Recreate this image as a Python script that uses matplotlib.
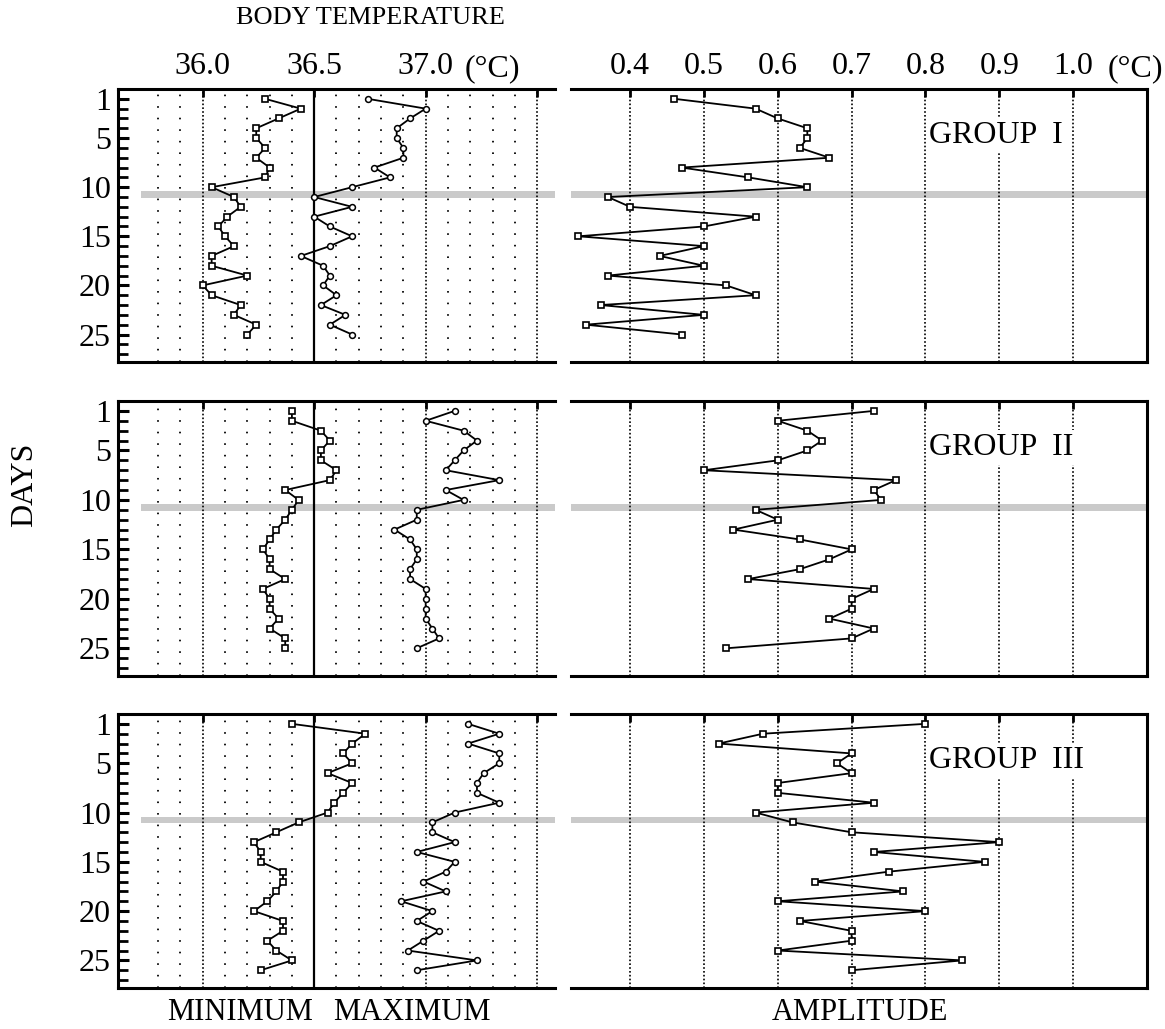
import matplotlib
matplotlib.use("Agg")
import matplotlib.pyplot as plt
from matplotlib.ticker import FixedLocator

plt.rcParams['font.family'] = ['Liberation Serif', 'DejaVu Serif']

# Days per group (group III has one extra day)
days_g1 = list(range(1, 26))
days_g2 = list(range(1, 26))
days_g3 = list(range(1, 27))

# Minimum body temperature (deg C)
g1_min = [36.28, 36.44, 36.34, 36.24, 36.24, 36.28, 36.24, 36.30, 36.28, 36.04,
          36.14, 36.17, 36.11, 36.07, 36.10, 36.14, 36.04, 36.04, 36.20, 36.00,
          36.04, 36.17, 36.14, 36.24, 36.20]
g2_min = [36.40, 36.40, 36.53, 36.57, 36.53, 36.53, 36.60, 36.57, 36.37, 36.43,
          36.40, 36.37, 36.33, 36.30, 36.27, 36.30, 36.30, 36.37, 36.27, 36.30,
          36.30, 36.34, 36.30, 36.37, 36.37]
g3_min = [36.40, 36.73, 36.67, 36.63, 36.67, 36.56, 36.67, 36.63, 36.59, 36.56,
          36.43, 36.33, 36.23, 36.26, 36.26, 36.36, 36.36, 36.33, 36.29, 36.23,
          36.36, 36.36, 36.29, 36.33, 36.40, 36.26]

# Maximum body temperature (deg C)
g1_max = [36.74, 37.00, 36.93, 36.87, 36.87, 36.90, 36.90, 36.77, 36.84, 36.67,
          36.50, 36.67, 36.50, 36.57, 36.67, 36.57, 36.44, 36.54, 36.57, 36.54,
          36.60, 36.53, 36.64, 36.57, 36.67]
g2_max = [37.13, 37.00, 37.17, 37.23, 37.17, 37.13, 37.09, 37.33, 37.09, 37.17,
          36.96, 36.96, 36.86, 36.93, 36.96, 36.96, 36.93, 36.93, 37.00, 37.00,
          37.00, 37.00, 37.03, 37.06, 36.96]
g3_max = [37.19, 37.33, 37.19, 37.33, 37.33, 37.26, 37.23, 37.23, 37.33, 37.13,
          37.03, 37.03, 37.13, 36.96, 37.13, 37.09, 36.99, 37.09, 36.89, 37.03,
          36.96, 37.06, 36.99, 36.92, 37.23, 36.96]

# Amplitude (deg C)
g1_amp = [0.46, 0.57, 0.60, 0.64, 0.64, 0.63, 0.67, 0.47, 0.56, 0.64,
          0.37, 0.40, 0.57, 0.50, 0.33, 0.50, 0.44, 0.50, 0.37, 0.53,
          0.57, 0.36, 0.50, 0.34, 0.47]
g2_amp = [0.73, 0.60, 0.64, 0.66, 0.64, 0.60, 0.50, 0.76, 0.73, 0.74,
          0.57, 0.60, 0.54, 0.63, 0.70, 0.67, 0.63, 0.56, 0.73, 0.70,
          0.70, 0.67, 0.73, 0.70, 0.53]
g3_amp = [0.80, 0.58, 0.52, 0.70, 0.68, 0.70, 0.60, 0.60, 0.73, 0.57,
          0.62, 0.70, 0.90, 0.73, 0.88, 0.75, 0.65, 0.77, 0.60, 0.80,
          0.63, 0.70, 0.70, 0.60, 0.85, 0.70]

group_names = ["GROUP  I", "GROUP  II", "GROUP  III"]
groups = [
    (days_g1, g1_min, g1_max, g1_amp),
    (days_g2, g2_min, g2_max, g2_amp),
    (days_g3, g3_min, g3_max, g3_amp),
]

temp_ticks = [36.0, 36.5, 37.0, 37.5]
temp_labels = ["36.0", "36.5", "37.0", ""]
temp_fine = [35.8, 35.9, 36.1, 36.2, 36.3, 36.4, 36.6, 36.7, 36.8, 36.9,
             37.1, 37.2, 37.3, 37.4]
amp_ticks = [0.4, 0.5, 0.6, 0.7, 0.8, 0.9, 1.0]
amp_labels = ["0.4", "0.5", "0.6", "0.7", "0.8", "0.9", "1.0"]
day_ticks = [1, 5, 10, 15, 20, 25]

W, H = 1165, 1029
fig = plt.figure(figsize=(W / 100, H / 100), dpi=100)
FS = 23


def add_px_axes(x0, x1, y0, y1):
    return fig.add_axes([x0 / W, 1 - y1 / H, (x1 - x0) / W, (y1 - y0) / H])


rows_px = [(89, 362), (401, 676), (714, 988)]

for i, (days, tmin, tmax, amp) in enumerate(groups):
    y0, y1 = rows_px[i]

    # ---- min / max temperature panel
    ax = add_px_axes(118, 555, y0, y1)
    ax.set_xlim(35.62, 37.58)
    ax.set_ylim(27.8, 0)
    ax.spines['right'].set_visible(False)
    for s in ['left', 'top', 'bottom']:
        ax.spines[s].set_linewidth(2.2)
    for v in temp_fine:
        ax.axvline(v, color='k', lw=1.3, ls=(0, (0.9, 5.5)), zorder=1)
    for v in [36.0, 37.0, 37.5]:
        ax.axvline(v, color='k', lw=1.2, ls=(0, (1, 1.3)), zorder=1)
    ax.axvline(36.5, color='k', lw=1.6, zorder=2)
    ax.axhspan(10.4, 11.1, xmin=0.053, xmax=1, color='#cacaca', lw=0, zorder=0.5)

    ax.plot(tmin, days, color='k', lw=1.3, marker='s', ms=5, mfc='white',
            mec='k', mew=1.2, zorder=3)
    ax.plot(tmax, days, color='k', lw=1.3, marker='o', ms=4.2, mfc='white',
            mec='k', mew=1.1, zorder=3)

    ax.xaxis.set_ticks_position('top')
    ax.set_xticks(temp_ticks)
    ax.set_xticklabels(temp_labels if i == 0 else [""] * 4)
    ax.tick_params(axis='x', direction='in', length=6, width=2, pad=6,
                   labelsize=FS)
    ax.yaxis.set_major_locator(FixedLocator(day_ticks))
    ax.yaxis.set_minor_locator(FixedLocator(list(range(1, 28))))
    ax.set_yticklabels([str(d) for d in day_ticks])
    ax.tick_params(axis='y', which='major', direction='in', length=8, width=2.2,
                   pad=5, labelsize=FS)
    ax.tick_params(axis='y', which='minor', direction='in', length=7, width=2)

    # ---- amplitude panel
    ax2 = add_px_axes(571, 1147, y0, y1)
    ax2.set_xlim(0.32, 1.10)
    ax2.set_ylim(27.8, 0)
    ax2.spines['left'].set_visible(False)
    for s in ['right', 'top', 'bottom']:
        ax2.spines[s].set_linewidth(2.2)
    for v in amp_ticks:
        ax2.axvline(v, color='k', lw=1.2, ls=(0, (1, 1.3)), zorder=1)
    ax2.axhspan(10.4, 11.1, color='#cacaca', lw=0, zorder=0.5)
    ax2.plot(amp, days, color='k', lw=1.3, marker='s', ms=5, mfc='white',
             mec='k', mew=1.2, zorder=3)
    ax2.text(0.805, 4.7, group_names[i], ha='left', va='center', fontsize=FS,
             zorder=4, bbox=dict(facecolor='white', edgecolor='none', pad=2))

    ax2.xaxis.set_ticks_position('top')
    ax2.set_xticks(amp_ticks)
    ax2.set_xticklabels(amp_labels if i == 0 else [""] * len(amp_ticks))
    ax2.tick_params(axis='x', direction='in', length=6, width=2, pad=6,
                    labelsize=FS)
    ax2.set_yticks([])

fig.text(370 / W, 1 - 18 / H, "BODY TEMPERATURE", ha='center', va='center',
         fontsize=19)
fig.text(492 / W, 1 - 69 / H, "(°C)", ha='center', va='center', fontsize=FS)
fig.text(1135 / W, 1 - 69 / H, "(°C)", ha='center', va='center', fontsize=FS)
fig.text(25 / W, 1 - 485 / H, "DAYS", ha='center', va='center', fontsize=FS,
         rotation=90)
fig.text(240 / W, 1 - 1012 / H, "MINIMUM", ha='center', va='center', fontsize=22)
fig.text(412 / W, 1 - 1012 / H, "MAXIMUM", ha='center', va='center', fontsize=22)
fig.text(860 / W, 1 - 1012 / H, "AMPLITUDE", ha='center', va='center', fontsize=22)

fig.savefig("out.png", dpi=100)
